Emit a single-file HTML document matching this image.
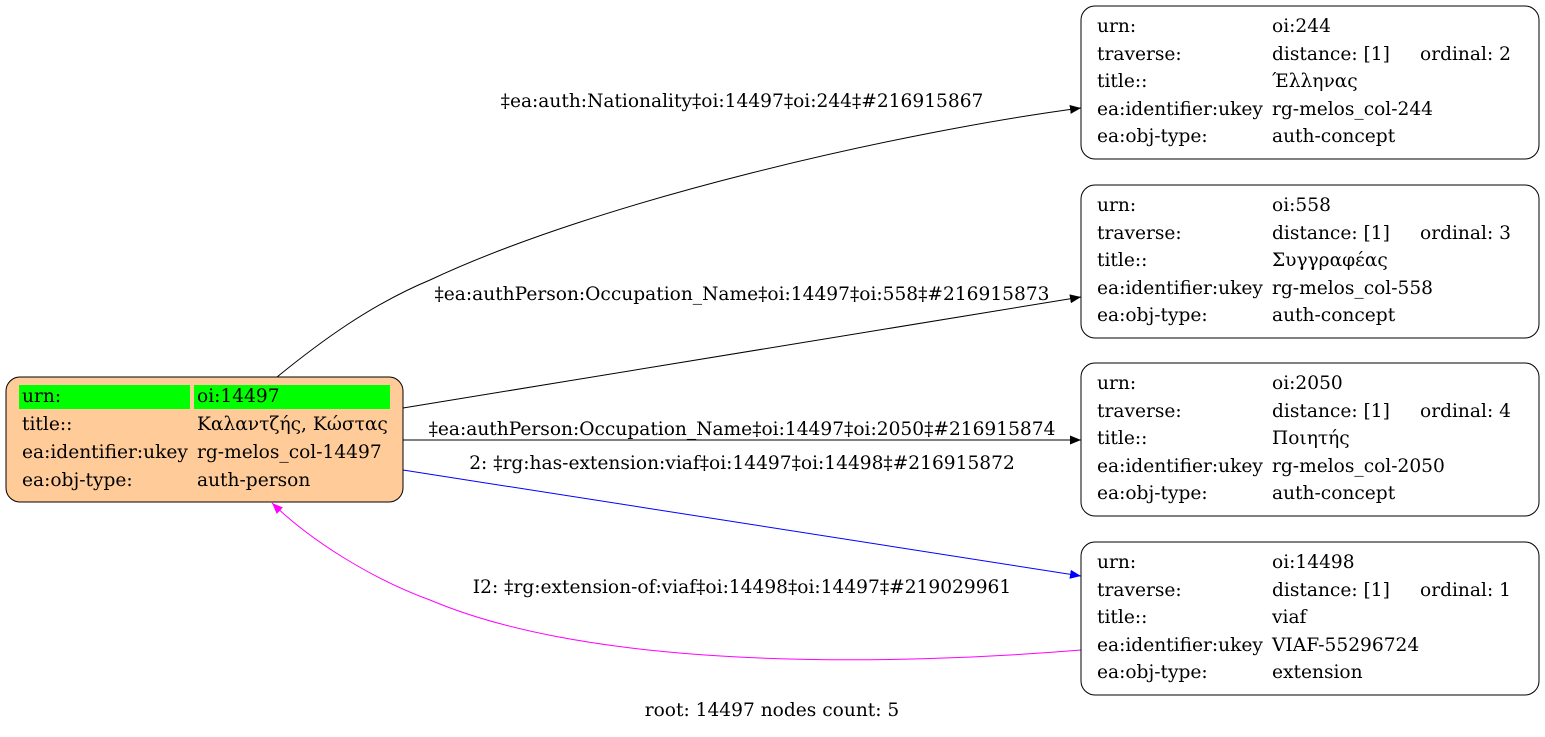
<!DOCTYPE html>
<html><head><meta charset="utf-8"><style>
html,body{margin:0;padding:0;background:#fff;}
svg text{font-family:"DejaVu Serif","Liberation Serif",serif;font-size:18.6px;fill:#000;}
</style></head><body>
<svg width="1545" height="732" viewBox="0 0 1545 732" xmlns="http://www.w3.org/2000/svg">
<defs>
<marker id="ab" markerWidth="11" markerHeight="9" refX="11" refY="4.5" orient="auto" markerUnits="userSpaceOnUse"><path d="M0,0 L11,4.5 L0,9 z" fill="#000"/></marker>
<marker id="au" markerWidth="11" markerHeight="9" refX="11" refY="4.5" orient="auto" markerUnits="userSpaceOnUse"><path d="M0,0 L11,4.5 L0,9 z" fill="#00f"/></marker>
<marker id="am" markerWidth="11" markerHeight="9" refX="11" refY="4.5" orient="auto" markerUnits="userSpaceOnUse"><path d="M0,0 L11,4.5 L0,9 z" fill="#f0f"/></marker>
</defs>
<path d="M277,377 C320,342 370,305 430,280 C600,200 900,132 1081,108" fill="none" stroke="#000" marker-end="url(#ab)"/>
<path d="M403,408 L1081,297" fill="none" stroke="#000" marker-end="url(#ab)"/>
<path d="M403,440 L1081,440" fill="none" stroke="#000" marker-end="url(#ab)"/>
<path d="M403,470 L1081,576" fill="none" stroke="#00f" marker-end="url(#au)"/>
<path d="M1081,650 C900,665 600,672 430,600 C370,578 310,540 272,503" fill="none" stroke="#f0f" marker-end="url(#am)"/>
<text x="742" y="107" text-anchor="middle">‡ea:auth:Nationality‡oi:14497‡oi:244‡#216915867</text>
<text x="742" y="300" text-anchor="middle">‡ea:authPerson:Occupation_Name‡oi:14497‡oi:558‡#216915873</text>
<text x="742" y="435" text-anchor="middle">‡ea:authPerson:Occupation_Name‡oi:14497‡oi:2050‡#216915874</text>
<text x="742" y="469" text-anchor="middle">2: ‡rg:has-extension:viaf‡oi:14497‡oi:14498‡#216915872</text>
<text x="742" y="593" text-anchor="middle">I2: ‡rg:extension-of:viaf‡oi:14498‡oi:14497‡#219029961</text>
<rect x="6" y="377" width="397" height="125" rx="14" fill="#ffcc99" stroke="#000"/>
<rect x="19" y="385" width="171" height="24" fill="#00ff00"/>
<rect x="194" y="385" width="196" height="24" fill="#00ff00"/>
<text x="22" y="402">urn:</text><text x="197" y="402">oi:14497</text>
<text x="22" y="430">title::</text><text x="197" y="430">Καλαντζής, Κώστας</text>
<text x="22" y="458">ea:identifier:ukey</text><text x="197" y="458">rg-melos_col-14497</text>
<text x="22" y="486">ea:obj-type:</text><text x="197" y="486">auth-person</text>
<g>
<rect x="1081" y="6" width="458" height="153" rx="14" fill="#fff" stroke="#000"/>
<text x="1097" y="32">urn:</text><text x="1272" y="32">oi:244</text>
<text x="1097" y="60">traverse:</text><text x="1272" y="60">distance: [1]</text><text x="1420" y="60">ordinal: 2</text>
<text x="1097" y="87">title::</text><text x="1272" y="87">Έλληνας</text>
<text x="1097" y="115">ea:identifier:ukey</text><text x="1272" y="115">rg-melos_col-244</text>
<text x="1097" y="142">ea:obj-type:</text><text x="1272" y="142">auth-concept</text>
</g>
<g transform="translate(0,179)">
<rect x="1081" y="6" width="458" height="153" rx="14" fill="#fff" stroke="#000"/>
<text x="1097" y="32">urn:</text><text x="1272" y="32">oi:558</text>
<text x="1097" y="60">traverse:</text><text x="1272" y="60">distance: [1]</text><text x="1420" y="60">ordinal: 3</text>
<text x="1097" y="87">title::</text><text x="1272" y="87">Συγγραφέας</text>
<text x="1097" y="115">ea:identifier:ukey</text><text x="1272" y="115">rg-melos_col-558</text>
<text x="1097" y="142">ea:obj-type:</text><text x="1272" y="142">auth-concept</text>
</g>
<g transform="translate(0,357)">
<rect x="1081" y="6" width="458" height="153" rx="14" fill="#fff" stroke="#000"/>
<text x="1097" y="32">urn:</text><text x="1272" y="32">oi:2050</text>
<text x="1097" y="60">traverse:</text><text x="1272" y="60">distance: [1]</text><text x="1420" y="60">ordinal: 4</text>
<text x="1097" y="87">title::</text><text x="1272" y="87">Ποιητής</text>
<text x="1097" y="115">ea:identifier:ukey</text><text x="1272" y="115">rg-melos_col-2050</text>
<text x="1097" y="142">ea:obj-type:</text><text x="1272" y="142">auth-concept</text>
</g>
<g transform="translate(0,536)">
<rect x="1081" y="6" width="458" height="153" rx="14" fill="#fff" stroke="#000"/>
<text x="1097" y="32">urn:</text><text x="1272" y="32">oi:14498</text>
<text x="1097" y="60">traverse:</text><text x="1272" y="60">distance: [1]</text><text x="1420" y="60">ordinal: 1</text>
<text x="1097" y="87">title::</text><text x="1272" y="87">viaf</text>
<text x="1097" y="115">ea:identifier:ukey</text><text x="1272" y="115">VIAF-55296724</text>
<text x="1097" y="142">ea:obj-type:</text><text x="1272" y="142">extension</text>
</g>
<text x="772" y="716" text-anchor="middle">root: 14497 nodes count: 5</text>
</svg>
</body></html>
